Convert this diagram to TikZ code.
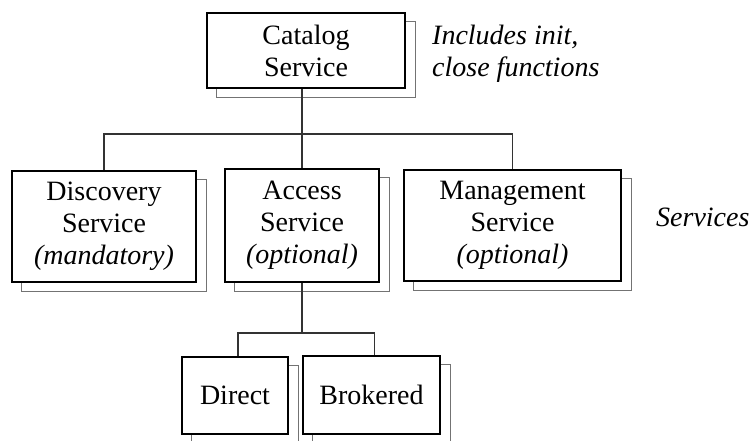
\documentclass[tikz,border=0pt]{standalone}
\usepackage{fontspec}
\setmainfont{Liberation Serif}
\usetikzlibrary{calc,backgrounds}
\tikzset{
  box/.style={draw=black, line width=1.6pt, fill=white, align=center, inner sep=0pt,
    font=\fontsize{28}{32}\selectfont},
  shadowbox/.style={draw=black!55, line width=0.8pt},
  conn/.style={draw=black!80, line width=1.3pt},
  note/.style={font=\fontsize{28}{32}\selectfont\itshape, align=left, inner sep=0pt}
}
\begin{document}
\begin{tikzpicture}[x=1pt, y=-1pt]
\useasboundingbox (0,0) rectangle (753,440);
\node[box, minimum width=198pt, minimum height=75pt] (cat) at (306,50.5) {Catalog\\Service};
\node[box, minimum width=184pt, minimum height=111pt] (disc) at (104,226.5) {Discovery\\Service\\\textit{(mandatory)}};
\node[box, minimum width=154pt, minimum height=113pt] (acc) at (302,225.5) {Access\\Service\\\textit{(optional)}};
\node[box, minimum width=217pt, minimum height=111pt] (man) at (512.5,225.5) {Management\\Service\\\textit{(optional)}};
\node[box, minimum width=106pt, minimum height=77pt] (dir) at (235,395.5) {Direct};
\node[box, minimum width=137pt, minimum height=78pt] (bro) at (371.5,395) {Brokered};
\node[note, anchor=west] (inc) at (432,54) {Includes init,\\close functions};
\node[note, anchor=west] (svc) at (656,217) {Services};
\coordinate (bus1) at (0,134);
\coordinate (bus2) at (0,333);
\coordinate (dtop) at ($(dir.north)+(3,0)$);
\coordinate (btop) at ($(bro.north)+(3,0)$);
\begin{scope}[on background layer]
  \foreach \n in {cat,disc,acc,man,dir,bro}{
    \draw[shadowbox] ($(\n.north west)+(10,9)$) rectangle ($(\n.south east)+(10,9)$);
  }
  \draw[conn] (acc.north) -- (acc.north |- cat.south);
  \draw[conn] (disc.north) -- (disc.north |- bus1) -- (man.north |- bus1) -- (man.north);
  \draw[conn] (acc.south) -- (acc.south |- bus2);
  \draw[conn] (dtop) -- (dtop |- bus2) -- (btop |- bus2) -- (btop);
\end{scope}
\end{tikzpicture}
\end{document}
